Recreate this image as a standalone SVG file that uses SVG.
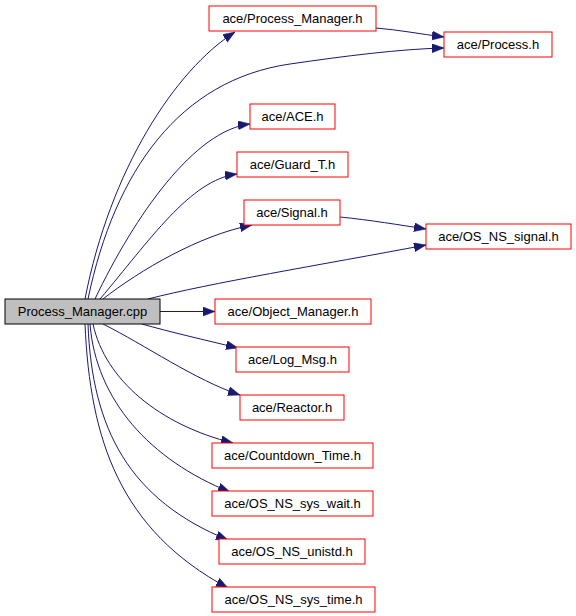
<svg xmlns="http://www.w3.org/2000/svg" width="576" height="616" viewBox="0 0 576 616">
<style>
.n rect{fill:#ffffff;stroke:#ff0000;stroke-width:1}
.root rect{fill:#bfbfbf;stroke:#000000;stroke-width:1}
text{font-family:"Liberation Sans",Arial,sans-serif;font-size:13px;fill:#000000;text-anchor:middle}
.e path{fill:none;stroke:#191970;stroke-width:1;marker-end:url(#ah)}
</style>
<defs>
<marker id="ah" markerUnits="userSpaceOnUse" markerWidth="13" markerHeight="10" refX="12" refY="4.5" orient="auto">
<path d="M0,0 L12,4.5 L0,9 z" fill="#191970" stroke="#191970" stroke-width="0.5"/>
</marker>
</defs>
<rect width="576" height="616" fill="#ffffff"/>
<g id="edges" class="e">
<path d="M85,299 C110,170 175,70 235,32"/>
<path d="M88,299 C115,170 180,80 290,64 C345,56 400,49 444,48"/>
<path d="M376,28 C400,30 420,34 444,37"/>
<path d="M95,299 C135,215 195,130 250,124"/>
<path d="M100,299 C150,240 190,180 237,174"/>
<path d="M103,299 C140,270 200,235 252,225"/>
<path d="M148,299 C210,283 320,265 426,245"/>
<path d="M340,217 C370,220 400,225 426,229"/>
<path d="M160,311.5 L215,311.5"/>
<path d="M142,324 C170,332 205,340 238,348"/>
<path d="M103,324 C145,345 195,380 240,395"/>
<path d="M93,324 C105,380 160,425 233,443"/>
<path d="M90,324 C96,400 150,460 230,492"/>
<path d="M88,324 C92,430 130,500 228,540"/>
<path d="M85,324 C90,440 120,530 228,588"/>
</g>
<g id="n_cpp" class="root"><rect x="5" y="299" width="155" height="25"/><text x="82.5" y="316">Process_Manager.cpp</text></g>
<g id="n_pmh" class="n"><rect x="209" y="6" width="167" height="25"/><text x="292.5" y="23">ace/Process_Manager.h</text></g>
<g id="n_proc" class="n"><rect x="444" y="32" width="108" height="25"/><text x="498" y="49">ace/Process.h</text></g>
<g id="n_ace" class="n"><rect x="250" y="104" width="85" height="25"/><text x="292.5" y="121">ace/ACE.h</text></g>
<g id="n_guard" class="n"><rect x="237" y="152" width="111" height="25"/><text x="292.5" y="169">ace/Guard_T.h</text></g>
<g id="n_signal" class="n"><rect x="244" y="200" width="96" height="25"/><text x="292" y="217">ace/Signal.h</text></g>
<g id="n_ossig" class="n"><rect x="426" y="224" width="145" height="25"/><text x="498.5" y="241">ace/OS_NS_signal.h</text></g>
<g id="n_objmgr" class="n"><rect x="215" y="299" width="156" height="25"/><text x="293" y="316">ace/Object_Manager.h</text></g>
<g id="n_log" class="n"><rect x="236" y="347" width="113" height="25"/><text x="292.5" y="364">ace/Log_Msg.h</text></g>
<g id="n_reactor" class="n"><rect x="240" y="395" width="104" height="25"/><text x="292" y="412">ace/Reactor.h</text></g>
<g id="n_countdown" class="n"><rect x="212" y="443" width="161" height="25"/><text x="292.5" y="460">ace/Countdown_Time.h</text></g>
<g id="n_syswait" class="n"><rect x="212" y="491" width="161" height="25"/><text x="292.5" y="508">ace/OS_NS_sys_wait.h</text></g>
<g id="n_unistd" class="n"><rect x="219" y="539" width="146" height="25"/><text x="292" y="556">ace/OS_NS_unistd.h</text></g>
<g id="n_systime" class="n"><rect x="212" y="587" width="163" height="25"/><text x="293.5" y="604">ace/OS_NS_sys_time.h</text></g>
</svg>
